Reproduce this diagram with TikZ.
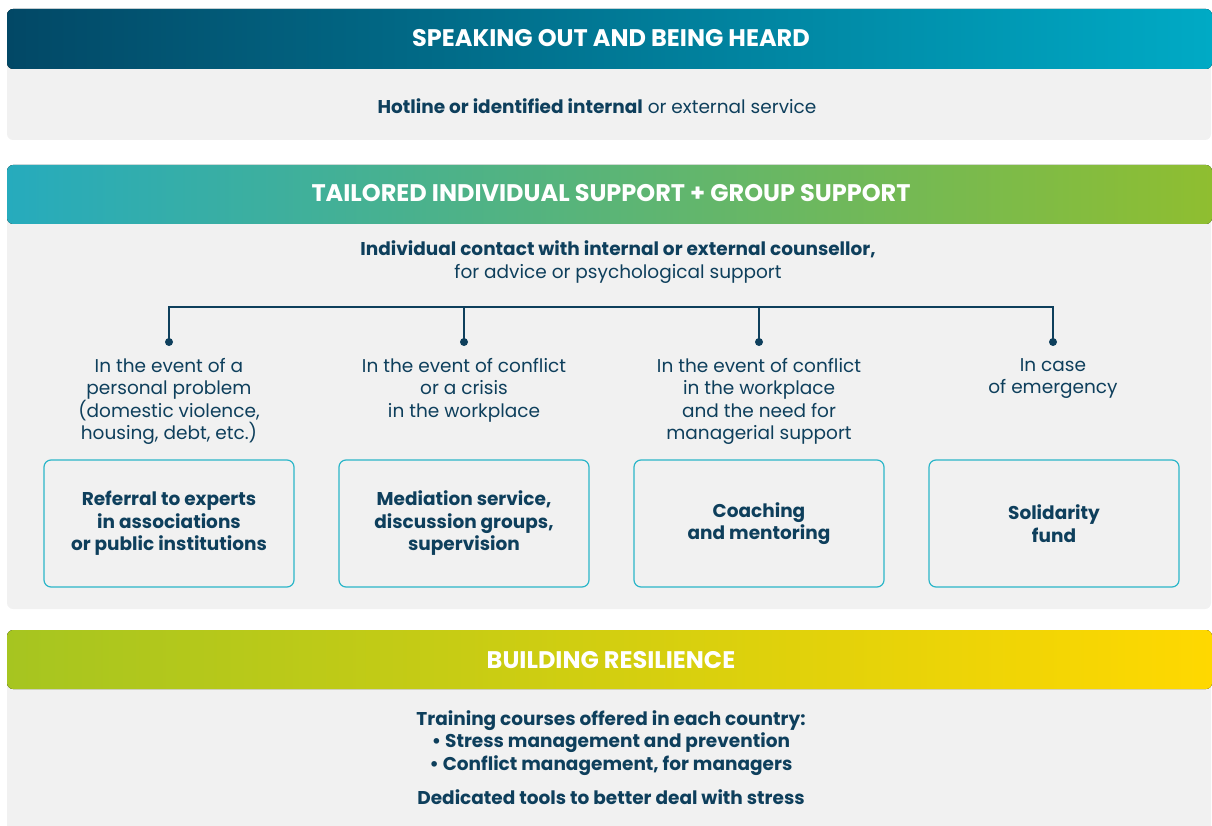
\documentclass[tikz,border=0pt]{standalone}
\usepackage{fontspec}
\setmainfont{Poppins}
\usetikzlibrary{positioning}
\definecolor{inkblue}{HTML}{0E3F5C}
\definecolor{panelgray}{HTML}{F1F1F1}
\definecolor{boxcyan}{HTML}{2BB6C9}
\definecolor{speakA}{HTML}{024866}
\definecolor{speakB}{HTML}{01708C}
\definecolor{speakC}{HTML}{00AAC5}
\definecolor{tailorA}{HTML}{26ABBD}
\definecolor{tailorB}{HTML}{5FB48C}
\definecolor{tailorC}{HTML}{8FBE30}
\definecolor{resilA}{HTML}{A6C520}
\definecolor{resilB}{HTML}{DECF00}
\definecolor{resilC}{HTML}{FFD800}
\tikzset{x=1pt, y=-1pt,
    every node/.style={align=center, text=inkblue, font=\fontsize{18.5}{22.5}\selectfont},
    panel/.style={fill=panelgray, rounded corners=6pt},
    headbar/.style={rounded corners=6pt},
    headtext/.style={text=white, font=\fontsize{24}{26}\selectfont\bfseries},
    casetext/.style={anchor=north, inner sep=0pt},
    casebox/.style={draw=boxcyan, line width=1.2pt, rounded corners=7pt,
        minimum width=250pt, minimum height=127pt, fill=panelgray,
        font=\fontsize{18.5}{22.5}\selectfont\bfseries},
    dot/.style={circle, fill=inkblue, inner sep=0pt, minimum size=8pt},
    bracket/.style={draw=inkblue, line width=2.5pt},
    }

\begin{document}
\begin{tikzpicture}
\useasboundingbox (0,0) rectangle (1212,826);
% speaking out
\fill[panel] (7,40) rectangle (1211,140);
\fill[headbar, left color=speakA, middle color=speakB, right color=speakC] (7,9) rectangle (1212,69);
\node[headtext] (speakhead) at (611,38) {SPEAKING OUT AND BEING HEARD};
\node (hotline) at (597,106) {\textbf{Hotline or identified internal} or external service};
% tailored support
\fill[panel] (7,195) rectangle (1211,609);
\fill[headbar, left color=tailorA, middle color=tailorB, right color=tailorC] (7,165) rectangle (1212,224);
\node[headtext] (tailorhead) at (611,193) {TAILORED INDIVIDUAL SUPPORT + GROUP SUPPORT};
\node (contact) at (618,262) {\textbf{Individual contact with internal or external counsellor,}\\for advice or psychological support};
\coordinate (barline) at (611,307);
\node[dot] (dot1) at (169,342) {};
\node[dot] (dot2) at (464,342) {};
\node[dot] (dot3) at (759,342) {};
\node[dot] (dot4) at (1053,342) {};
\draw[bracket] (dot1.center) -- (dot1.center |- barline) -- (dot4.center |- barline) -- (dot4.center);
\draw[bracket] (dot2.center) -- (dot2.center |- barline);
\draw[bracket] (dot3.center) -- (dot3.center |- barline);
\node[casetext] (case1) at (169,358) {In the event of a\\personal problem\\(domestic violence,\\housing, debt, etc.)};
\node[casetext] (case2) at (464,358) {In the event of conflict\\or a crisis\\in the workplace};
\node[casetext] (case3) at (759,358) {In the event of conflict\\in the workplace\\and the need for\\managerial support};
\node[casetext] (case4) at (1053,358) {In case\\of emergency};
\node[casebox] (referral) at (169,523.5) {Referral to experts\\in associations\\or public institutions};
\node[casebox] (mediation) at (464,523.5) {Mediation service,\\discussion groups,\\supervision};
\node[casebox] (coaching) at (759,523.5) {Coaching\\and mentoring};
\node[casebox] (solidarity) at (1054,523.5) {Solidarity\\fund};
% resilience
\fill[panel] (7,660) rectangle (1211,840);
\fill[headbar, left color=resilA, middle color=resilB, right color=resilC] (7,630) rectangle (1212,689);
\node[headtext] (resilhead) at (611,660) {BUILDING RESILIENCE};
\node[font=\fontsize{18.5}{22.5}\selectfont\bfseries] (training) at (611,743) {Training courses offered in each country:\\• Stress management and prevention\\• Conflict management, for managers};
\node[font=\fontsize{18.5}{22.5}\selectfont\bfseries] (tools) at (611,797) {Dedicated tools to better deal with stress};
\end{tikzpicture}
\end{document}
